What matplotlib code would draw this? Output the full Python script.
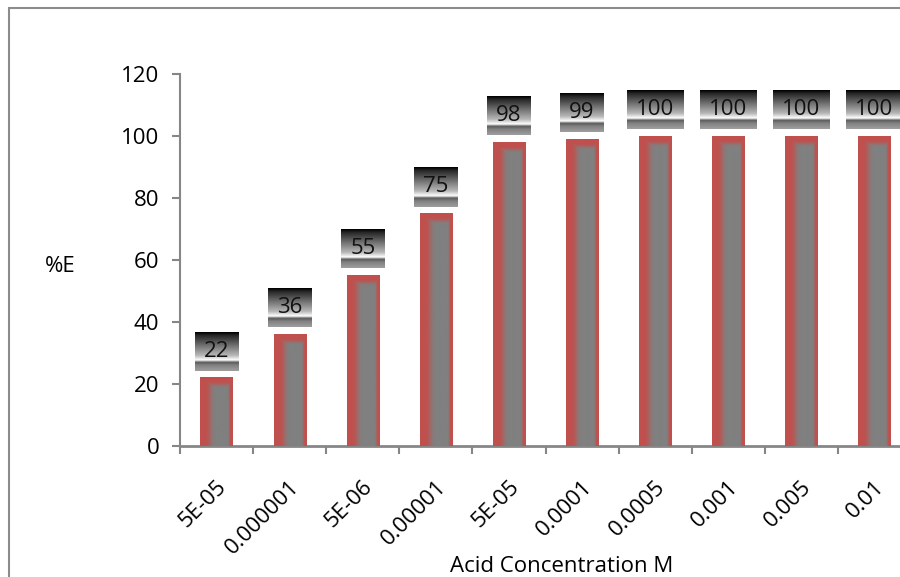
import numpy as np
import matplotlib
matplotlib.use("Agg")
import matplotlib.pyplot as plt
from matplotlib.patches import Rectangle
from matplotlib.colors import to_rgb
from matplotlib.transforms import ScaledTranslation

categories = ["5E-05", "0.000001", "5E-06", "0.00001", "5E-05",
              "0.0001", "0.0005", "0.001", "0.005", "0.01"]
values = [22, 36, 55, 75, 98, 99, 100, 100, 100, 100]
yticks = [0, 20, 40, 60, 80, 100, 120]

W, H = 900, 577
plt.rcParams['font.family'] = ['Open Sans', 'DejaVu Sans']
fig = plt.figure(figsize=(W / 100, H / 100), dpi=100)
ax = fig.add_axes([180 / W, 1 - 446 / H, 731 / W, 372 / H])

axis_col = "#868686"
red = np.array(to_rgb("#C0504D"))
gray = np.array(to_rgb("#808080"))
FS = 16

x = np.arange(len(categories))
bw = 0.44
ax.set_xlim(-0.5, len(categories) - 0.5)
ax.set_ylim(0, 120)

bars = ax.bar(x, values, width=bw, color="#C0504D", zorder=2)

px_per_x = 731 / len(categories)
px_per_y = 372 / 120


def smooth(t):
    t = np.clip(t, 0, 1)
    return t * t * (3 - 2 * t)


for b in bars:
    x0, w, h = b.get_x(), b.get_width(), b.get_height()
    npx = int(round(w * px_per_x))
    npy = max(int(round(h * px_per_y)), 2)
    xx = np.arange(npx) + 0.5
    yy = np.arange(npy) + 0.5  # from top
    wl = smooth((xx - 5) / 10)
    wr = smooth((npx - xx - 2) / 3)
    wt = smooth((yy - 4) / 7)
    wgt = np.minimum(np.minimum(wl[None, :], wr[None, :]), wt[:, None])
    img = red[None, None, :] * (1 - wgt[..., None]) + gray[None, None, :] * wgt[..., None]
    ax.imshow(img, extent=(x0, x0 + w, 0, h), aspect='auto', origin='upper',
              interpolation='bilinear', zorder=3)
    b.set_alpha(0)

prof_pos = [0.0, 0.08, 0.35, 0.6, 0.72, 0.78, 0.85, 1.0]
prof_val = [0.0, 0.15, 0.45, 0.72, 1.0, 0.35, 0.5, 0.62]
fig.canvas.draw()
renderer = fig.canvas.get_renderer()
box_h_px = 39
gap_px = 7
for xi, v in zip(x, values):
    yc = v + (gap_px + box_h_px / 2) / px_per_y
    t = ax.text(xi, yc, str(v), ha='center', va='center', fontsize=FS,
                color='#111111', zorder=6)
    bb = t.get_window_extent(renderer)
    wpx = bb.width + 18
    half_w = wpx / 2 / px_per_x
    y0 = v + gap_px / px_per_y
    y1 = y0 + box_h_px / px_per_y
    rows = np.linspace(0, 1, 80)
    vals = np.interp(rows, prof_pos, prof_val)
    grad = np.repeat(vals[:, None], 2, axis=1)
    ax.imshow(np.dstack([grad] * 3), extent=(xi - half_w, xi + half_w, y0, y1),
              aspect='auto', origin='upper', interpolation='bilinear',
              zorder=5, clip_on=False)

ax.set_xlim(-0.5, len(categories) - 0.5)
ax.set_ylim(0, 120)

for s in ['top', 'right']:
    ax.spines[s].set_visible(False)
for s in ['left', 'bottom']:
    ax.spines[s].set_color(axis_col)
ax.spines['bottom'].set_linewidth(2)
ax.spines['left'].set_linewidth(1.5)

ax.set_yticks(yticks)
ax.set_yticklabels([str(v) for v in yticks], fontsize=FS)
ax.tick_params(axis='y', length=6, width=1.5, color=axis_col, pad=9)

ax.set_xticks(x)
ax.set_xticklabels(categories, rotation=45, ha='right', va='center',
                   rotation_mode='anchor', fontsize=FS)
ax.tick_params(axis='x', length=0, pad=27)
ax.set_xticks(np.arange(len(categories) + 1) - 0.5, minor=True)
ax.tick_params(axis='x', which='minor', length=6, width=1.5, color=axis_col)
shift = ScaledTranslation(7 / 100, 0, fig.dpi_scale_trans)
for lbl in ax.get_xticklabels():
    lbl.set_transform(lbl.get_transform() + shift)

fig.text(60 / W, 1 - 267 / H, "%E", ha='center', va='center', fontsize=FS)
fig.text(562 / W, 1 - 566 / H, "Acid Concentration M", ha='center', va='center', fontsize=FS)

border = Rectangle((8.5 / W, -0.2), 2, 1.2 - 8 / H, transform=fig.transFigure,
                   fill=False, edgecolor='#8c8c8c', linewidth=1.5)
fig.add_artist(border)

fig.savefig("out.png", dpi=100)
